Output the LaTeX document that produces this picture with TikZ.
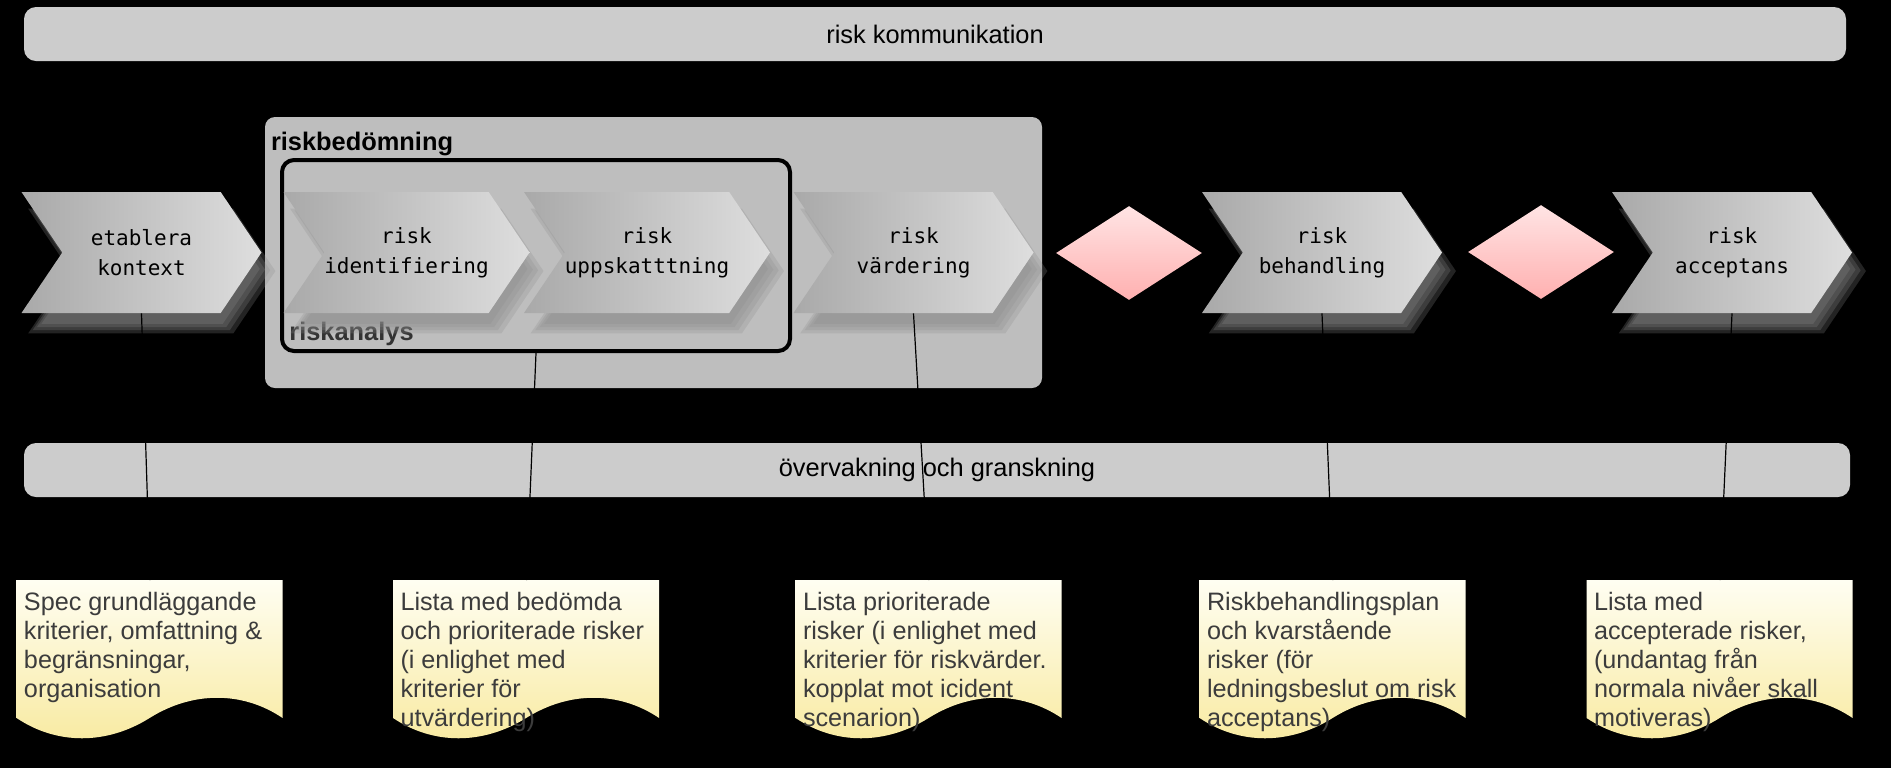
\documentclass[tikz,border=0pt]{standalone}
\usepackage{fontspec}
\setmainfont{Liberation Sans}
\setmonofont{DejaVu Sans Mono}
\usetikzlibrary{shapes.symbols,shapes.geometric,shadows,positioning}
\definecolor{barg}{HTML}{CCCCCC}
\definecolor{boxg}{HTML}{BEBEBE}
\definecolor{chevl}{HTML}{A9A9A9}
\definecolor{chevr}{HTML}{DEDEDE}
\definecolor{glow}{HTML}{8C8C8C}
\definecolor{pinkt}{HTML}{FFE4E4}
\definecolor{pinkb}{HTML}{FFB0B0}
\definecolor{doct}{HTML}{FFFEF2}
\definecolor{docb}{HTML}{F8EAA0}
\definecolor{doctxt}{HTML}{3C3C3C}
\tikzset{
  bar/.style={rectangle,rounded corners=6pt,fill=barg,minimum height=27pt,font=\fontsize{12.7}{15}\selectfont},
  groupbox/.style={rectangle,rounded corners=5pt,fill=boxg},
  grouplabel/.style={font=\bfseries\fontsize{12.7}{15}\selectfont,inner xsep=3pt,inner ysep=7.5pt},
  chevron/.style={signal,signal to=east,signal from=west,signal pointer angle=112,minimum width=120pt,minimum height=60.5pt,inner sep=0pt,
    left color=chevl,right color=chevr,align=center,font=\ttfamily\fontsize{10.5}{15}\selectfont,
    drop shadow={shadow xshift=5pt,shadow yshift=-9pt,shadow scale=1.03,fill=glow,opacity=.25},
    drop shadow={shadow xshift=5pt,shadow yshift=-9pt,shadow scale=.99,fill=glow,opacity=.25},
    drop shadow={shadow xshift=5pt,shadow yshift=-9pt,shadow scale=.95,fill=glow,opacity=.25},
    drop shadow={shadow xshift=5pt,shadow yshift=-9pt,shadow scale=.91,fill=glow,opacity=.25}},
  decision/.style={diamond,minimum width=73pt,minimum height=47pt,inner sep=0pt,top color=pinkt,bottom color=pinkb},
  docbox/.style={rectangle,anchor=north,minimum width=133pt,minimum height=80pt,inner sep=0pt},
  docshape/.pic={\shade[top color=doct,bottom color=docb]
      (0,0) -- (266,0) -- (266,138) .. controls (226,111) and (176,111) .. (133,138)
      .. controls (90,165) and (40,165) .. (0,138) -- cycle;},
  doctext/.style={anchor=north west,align=left,text=doctxt,inner xsep=3.5pt,inner ysep=6pt,font=\fontsize{12.6}{14.5}\selectfont},
  tie/.style={black,line width=0.6pt}
}

\begin{document}
\begin{tikzpicture}[x=0.5pt,y=-0.5pt]
  \fill[black] (0,0) rectangle (1891,768);
  \useasboundingbox (0,0) rectangle (1891,768);

  \node[bar,minimum width=911pt] (komm) at (935,34) {risk kommunikation};

  % riskbedömning and riskanalys groups
  \node[groupbox,minimum width=388.5pt,minimum height=135.5pt] (bedom) at (653.5,252.5) {};
  \node[grouplabel,anchor=north west] (bedomlbl) at (bedom.north west) {riskbedömning};
  \node[groupbox,draw=black,line width=2pt,rounded corners=6pt,minimum width=254pt,minimum height=95.5pt] (ana) at (536,255.5) {};
  \node[grouplabel,anchor=south west,inner xsep=4.5pt,inner ysep=3.5pt,text=black!80] (analbl) at (ana.south west) {riskanalys};

  % process chain
  \node[chevron] (etab) at (141.5,252.5) {etablera\\kontext};
  \node[chevron] (ident) at (406.5,252.5) {risk\\identifiering};
  \node[chevron] (upps) at (647,252.5) {risk\\uppskatttning};
  \node[chevron] (vard) at (913.5,252.5) {risk\\värdering};
  \node[decision] (dia1) at (1129,253) {};
  \node[chevron] (behand) at (1322,252.5) {risk\\behandling};
  \node[decision] (dia2) at (1541,252) {};
  \node[chevron] (accept) at (1732,252.5) {risk\\acceptans};

  \node[bar,minimum width=913pt] (overv) at (937,470) {övervakning och granskning};

  % outputs
  \node[docbox] (d1) at (150,580) {};
  \node[docbox] (d2) at (526.5,580) {};
  \node[docbox] (d3) at (929,580) {};
  \node[docbox] (d4) at (1333,580) {};
  \node[docbox] (d5) at (1720,580) {};
  \pic at (d1.north west) {docshape};
  \pic at (d2.north west) {docshape};
  \pic at (d3.north west) {docshape};
  \pic at (d4.north west) {docshape};
  \pic at (d5.north west) {docshape};
  \node[doctext] (d1txt) at (d1.north west) {Spec grundläggande\\kriterier, omfattning \&\\begränsningar,\\organisation};
  \node[doctext] (d2txt) at (d2.north west) {Lista med bedömda\\och prioriterade risker\\(i enlighet med\\kriterier för\\utvärdering)};
  \node[doctext] (d3txt) at (d3.north west) {Lista prioriterade\\risker (i enlighet med\\kriterier för riskvärder.\\kopplat mot icident\\scenarion)};
  \node[doctext] (d4txt) at (d4.north west) {Riskbehandlingsplan\\och kvarstående\\risker (för\\ledningsbeslut om risk\\acceptans)};
  \node[doctext] (d5txt) at (d5.north west) {Lista med\\accepterade risker,\\(undantag från\\normala nivåer skall\\motiveras)};

  \draw[tie] (etab.south) -- (d1.north);
  \draw[tie] (ana.south) -- (d2.north);
  \draw[tie] (vard.south) -- (d3.north);
  \draw[tie] (behand.south) -- (d4.north);
  \draw[tie] (accept.south) -- (d5.north);
\end{tikzpicture}
\end{document}
